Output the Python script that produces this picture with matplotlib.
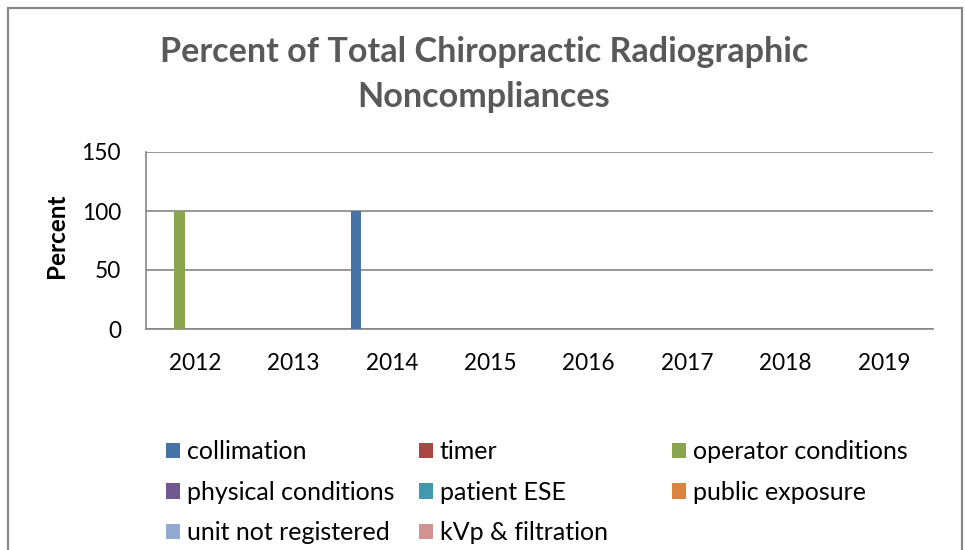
import matplotlib
matplotlib.use("Agg")
import matplotlib.pyplot as plt
import numpy as np
from matplotlib.patches import Rectangle

plt.rcParams['font.family'] = ['Lato', 'DejaVu Sans']

years = ["2012", "2013", "2014", "2015", "2016", "2017", "2018", "2019"]
series_names = ["collimation", "timer", "operator conditions", "physical conditions",
                "patient ESE", "public exposure", "unit not registered", "kVp & filtration"]
collimation = [0, 0, 100, 0, 0, 0, 0, 0]
timer = [0, 0, 0, 0, 0, 0, 0, 0]
operator_conditions = [100, 0, 0, 0, 0, 0, 0, 0]
physical_conditions = [0, 0, 0, 0, 0, 0, 0, 0]
patient_ese = [0, 0, 0, 0, 0, 0, 0, 0]
public_exposure = [0, 0, 0, 0, 0, 0, 0, 0]
unit_not_registered = [0, 0, 0, 0, 0, 0, 0, 0]
kvp_filtration = [0, 0, 0, 0, 0, 0, 0, 0]
series_values = [collimation, timer, operator_conditions, physical_conditions,
                 patient_ese, public_exposure, unit_not_registered, kvp_filtration]
colors = ["#4572A7", "#AA4643", "#89A54E", "#71588F", "#4198AF", "#DB843D", "#93A9CF", "#D19392"]
yticks = [0, 50, 100, 150]

fig = plt.figure(figsize=(9.65, 5.5), dpi=100)
W, H = 965, 550
ax = fig.add_axes([146 / W, 1 - 329 / H, (933 - 146) / W, (329 - 152) / H])

n = len(series_names)
bw = 1 / (n + 1.5)
x = np.arange(len(years))
handles = []
for i, (name, vals, c) in enumerate(zip(series_names, series_values, colors)):
    b = ax.bar(x + (i - (n - 1) / 2) * bw, vals, width=bw, color=c, label=name, zorder=3)
    handles.append(b)

ax.set_xlim(-0.5, len(years) - 0.5)
ax.set_ylim(0, 150)
ax.set_yticks(yticks)
ax.set_xticks(x)
ax.set_xticklabels(years)
ax.tick_params(axis='both', length=0, labelsize=16.3, colors='black')
ax.tick_params(axis='y', pad=18)
ax.tick_params(axis='x', pad=17)
ax.yaxis.grid(True, color='#868686', lw=1.2, zorder=0)
for s in ['top', 'right']:
    ax.spines[s].set_visible(False)
for s in ['left', 'bottom']:
    ax.spines[s].set_color('#868686')
    ax.spines[s].set_linewidth(1.2)
ax.set_ylabel("Percent", fontsize=17.5, fontweight='bold')
ax.yaxis.set_label_coords(-78 / (933 - 146), 0.525)

fig.text(484 / W, 1 - 74.5 / H, "Percent of Total Chiropractic Radiographic\nNoncompliances",
         ha='center', va='center', fontsize=24.6, fontweight='bold', color='#595959',
         linespacing=1.5)

# legend in three columns, filled row-wise
col_x = [166, 419, 672]
for c in range(3):
    idx = list(range(c, n, 3))
    leg = fig.legend([handles[i] for i in idx], [series_names[i] for i in idx],
                     loc='upper left', bbox_to_anchor=(col_x[c] / W, 1 - 440 / H),
                     frameon=False, fontsize=18, borderpad=0, borderaxespad=0,
                     handlelength=0.56, handleheight=0.56, handletextpad=0.28,
                     labelspacing=0.71)

fig.patches.append(Rectangle((7.5 / W, -0.1), (962 - 7.5) / W, 1.1 - 7.5 / H,
                             transform=fig.transFigure, fill=False,
                             edgecolor='#878787', lw=1.6))

fig.savefig("out.png", dpi=100)
